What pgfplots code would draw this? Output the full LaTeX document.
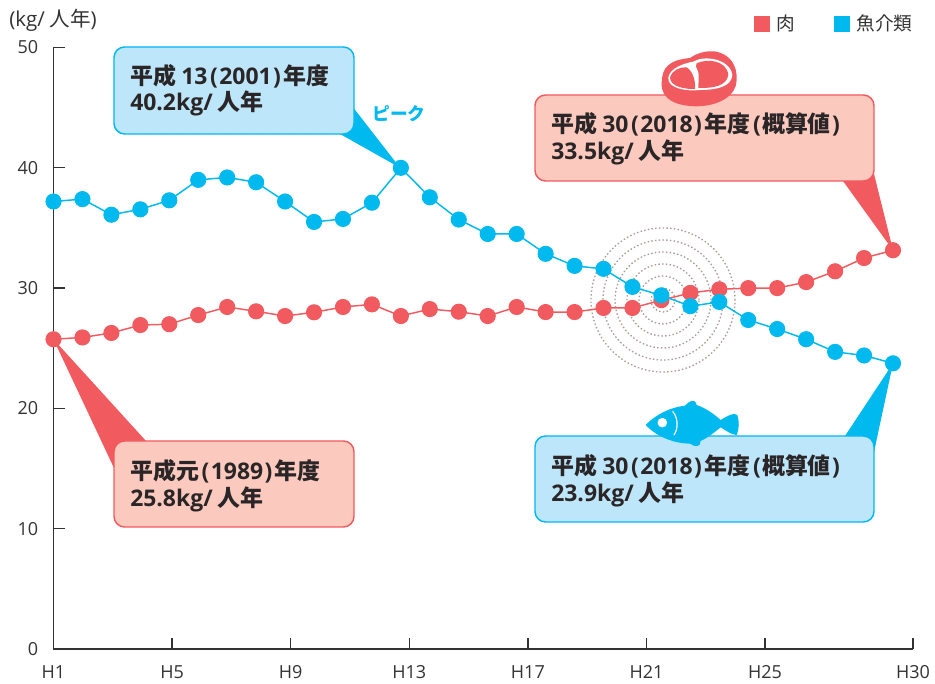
\documentclass[border=0pt]{standalone}
\usepackage{pgfplots}
\pgfplotsset{compat=1.18}
\usepackage{fontspec}
\setmainfont{Noto Sans CJK JP}
\newfontfamily\lat{Open Sans}
\definecolor{meat}{HTML}{F15A5F}
\definecolor{fish}{HTML}{00B9EF}
\definecolor{meatbg}{HTML}{FBC9BE}
\definecolor{fishbg}{HTML}{BDE6FA}
\definecolor{ink}{HTML}{333333}
\definecolor{txt}{HTML}{2A2526}
\definecolor{ring}{HTML}{A89C98}
\pgfplotstableread{
x meat fish
1 25.75 37.2
2 25.9 37.4
3 26.27 36.1
4 26.93 36.55
5 27.0 37.3
6 27.76 39.0
7 28.43 39.2
8 28.07 38.8
9 27.68 37.2
10 27.99 35.5
11 28.43 35.75
12 28.65 37.1
13 27.68 40.0
14 28.26 37.55
15 28.04 35.7
16 27.68 34.5
17 28.43 34.5
18 28.01 32.85
19 28.01 31.85
20 28.35 31.6
21 28.35 30.1
22 29.0 29.4
23 29.6 28.5
24 29.9 28.85
25 30.0 27.35
26 30.0 26.6
27 30.5 25.75
28 31.4 24.7
29 32.5 24.4
30 33.15 23.75
}\datatable
\newcommand{\callout}[7]{%
  \fill[#2] #7 -- cycle;
  \draw[#2,fill=#1,line width=1.1pt,rounded corners=8pt] (#3,#4) rectangle (#5,#6);
}
\newcommand{\La}[1]{{\lat #1}}
\newcommand{\LP}{\hspace{2pt}{\lat(}\hspace{1pt}}
\newcommand{\RP}{\hspace{1pt}{\lat)}\hspace{2pt}}
\begin{document}
\begin{tikzpicture}
\begin{scope}[x=.75pt,y=-.75pt,yshift=513pt]
\path[use as bounding box] (0,0) rectangle (935,684);
% ripple
\foreach \r in {12,24,36,48,60,72}
  \draw[ring,line width=1pt,dash pattern=on 1.1pt off 1.7pt] (663,300) circle [radius=\r*.75pt];
% callouts
\callout{fishbg}{fish}{114}{47}{354}{134}{(352,106) -- (340,134) -- (400,167.7)}
\callout{meatbg}{meat}{535}{95}{874}{181}{(843,181) -- (873,170) -- (893,250.3)}
\callout{fishbg}{fish}{535}{436}{874}{522}{(845,436) -- (874,452) -- (893,363.3)}
\callout{meatbg}{meat}{114}{441}{354}{527}{(53.5,339.3) -- (114,468) -- (146,441)}
\begin{scope}[every node/.style={anchor=base west,inner sep=0pt,text=txt,font=\fontsize{17.2pt}{18pt}\selectfont\bfseries}]
\node at (130,85) {平成 \La{13}\LP\La{2001}\RP 年度};
\node at (130,111) {\La{40.2kg/} 人年};
\node at (551,133) {平成 \La{30}\LP\La{2018}\RP 年度\LP 概算値\RP};
\node at (551,160) {\La{33.5kg/} 人年};
\node at (551,475) {平成 \La{30}\LP\La{2018}\RP 年度\LP 概算値\RP};
\node at (551,502) {\La{23.9kg/} 人年};
\node at (130,480) {平成元\LP\La{1989}\RP 年度};
\node at (130,507) {\La{25.8kg/} 人年};
\end{scope}
\node[anchor=base west,inner sep=0pt,text=fish,font=\fontsize{13.3pt}{15pt}\selectfont\bfseries] at (372,121) {ピーク};
\node[anchor=base west,inner sep=0pt,text=ink,font=\fontsize{15.4pt}{15pt}\selectfont] at (9,27) {{\lat(kg/} 人年{\lat)}};
% meat icon, coordinates from 3x crop
\begin{scope}[shift={(530,0)},x=.25pt,y=-.25pt]
\fill[meat] (395,250) .. controls (395,200) and (420,180) .. (480,174)
  .. controls (500,160) and (530,150) .. (560,155)
  .. controls (600,165) and (622,195) .. (620,240)
  .. controls (620,285) and (570,318) .. (500,319)
  .. controls (440,318) and (393,300) .. (395,250) -- cycle;
\fill[white] (415,232) .. controls (420,205) and (460,190) .. (490,185)
  .. controls (520,165) and (600,175) .. (607,225)
  .. controls (605,260) and (560,270) .. (510,270)
  .. controls (470,275) and (410,265) .. (415,232) -- cycle;
\fill[meat] (420,232) .. controls (425,212) and (450,200) .. (470,202)
  .. controls (490,215) and (497,245) .. (495,267)
  .. controls (465,268) and (420,260) .. (420,232) -- cycle;
\fill[meat] (500,190) .. controls (530,175) and (590,180) .. (595,225)
  .. controls (590,258) and (550,265) .. (505,264)
  .. controls (505,240) and (510,215) .. (498,200) -- cycle;
\end{scope}
% fish icon
\begin{scope}[shift={(530,340)},x=.25pt,y=-.25pt]
\fill[fish] (347,255) .. controls (375,225) and (420,202) .. (465,197)
  .. controls (475,185) and (495,172) .. (500,195)
  .. controls (530,205) and (555,225) .. (572,240)
  .. controls (590,230) and (610,215) .. (622,225)
  .. controls (628,245) and (628,265) .. (620,285)
  .. controls (605,285) and (585,270) .. (572,262)
  .. controls (550,280) and (530,295) .. (512,303)
  .. controls (512,322) and (495,322) .. (480,311)
  .. controls (430,310) and (380,290) .. (347,255) -- cycle;
\fill[white] (397,248) circle [radius=3.6pt];
\draw[white,line width=.9pt] (428,214) .. controls (445,235) and (445,265) .. (432,285);
\end{scope}
\end{scope}
\begin{axis}[
  at={(40.125pt,26.25pt)},anchor=south west,
  scale only axis,width=644.6pt,height=451.1pt,
  xmin=1,xmax=30.69,ymin=0,ymax=50,
  axis x line=bottom,axis y line=left,
  axis line style={-,ink,line width=1pt},
  tick style={ink,line width=1pt},
  major tick length=8.25pt,tick align=inside,
  xtick={1,5.0967,9.1934,13.2901,17.3868,21.4835,25.5802,30.69},
  xticklabels={H1,H5,H9,H13,H17,H21,H25,H30},
  ytick={0,10,20,30,40,50},
  /pgf/number format/assume math mode=true,
  tick label style={text=ink,font=\fontsize{13.5pt}{15pt}\selectfont\lat},
  xticklabel style={yshift=-9pt},
  yticklabel style={xshift=-8pt},
  clip=false,
  legend style={draw=none,fill=none,at={(1.003,1.039)},anchor=east,legend columns=2,
    font=\fontsize{14pt}{15pt}\selectfont,text=ink,
    /tikz/every even column/.append style={column sep=27pt},inner sep=0pt},
  legend image code/.code={\fill[#1,mark=none] (0pt,-5.5pt) rectangle (11pt,5.5pt);\path (14pt,0pt);},
]
\addplot[color=meat,line width=1.1pt,mark=*,mark size=5.5pt,mark options={fill=meat,draw=meat}] table[x=x,y=meat] {\datatable};
\addplot[color=fish,line width=1.1pt,mark=*,mark size=5.5pt,mark options={fill=fish,draw=fish}] table[x=x,y=fish] {\datatable};
\legend{肉,魚介類}
\end{axis}
\end{tikzpicture}
\end{document}
